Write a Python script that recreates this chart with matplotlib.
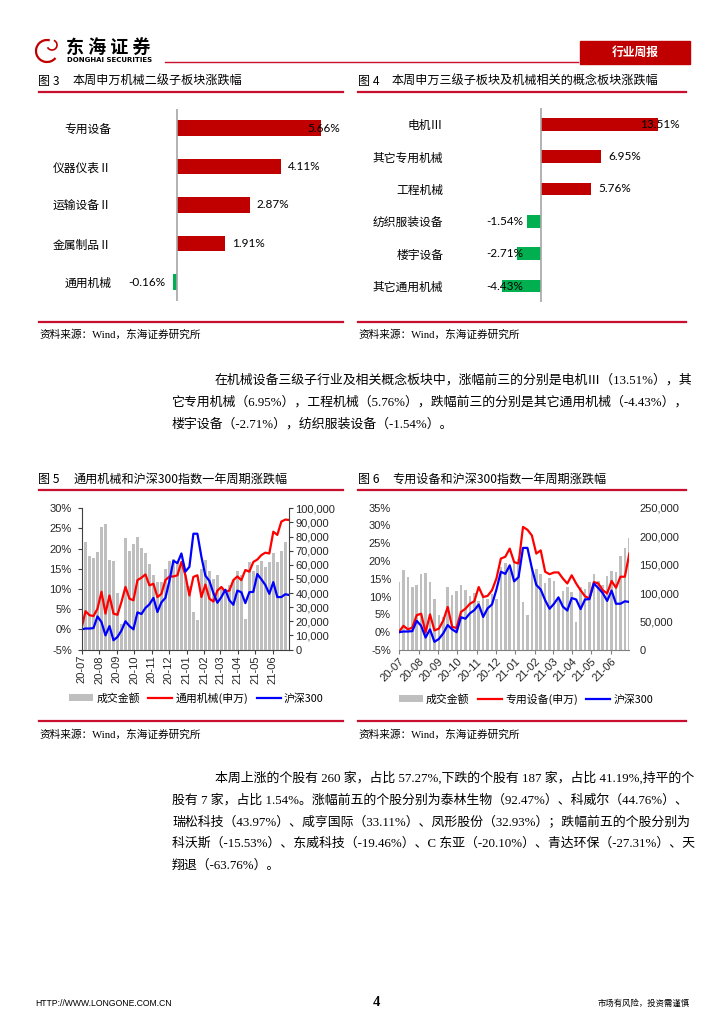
import numpy as np
import pandas as pd
import matplotlib
matplotlib.use('Agg')
import matplotlib.pyplot as plt
from matplotlib.lines import Line2D
from matplotlib.patches import Rectangle, Arc
from matplotlib.ticker import MultipleLocator, FuncFormatter

plt.rcParams['font.family'] = ['Noto Sans CJK SC', 'DejaVu Sans']

# ---------------- data ----------------
sub2_names = ['专用设备', '仪器仪表Ⅱ', '运输设备Ⅱ', '金属制品Ⅱ', '通用机械']
sub2_chg = [5.66, 4.11, 2.87, 1.91, -0.16]

sub3_names = ['电机Ⅲ', '其它专用机械', '工程机械', '纺织服装设备', '楼宇设备', '其它通用机械']
sub3_chg = [13.51, 6.95, 5.76, -1.54, -2.71, -4.43]

# weekly points, one year
week_start = '2020-07-01'
n_weeks = 53

hs300 = [0.0, 0.2, 0.2, 0.3, 3.2, 1.8, -1.5, 0.8, -2.7, -1.9,
         -0.3, 2.0, 0.8, 0.0, 4.2, 3.8, 5.3, 6.2, 7.8, 4.3,
         6.7, 7.8, 12.0, 17.0, 16.4, 18.8, 14.3, 15.5, 23.7, 23.7,
         18.0, 13.3, 12.0, 9.0, 6.6, 8.0, 9.8, 7.2, 6.1, 9.6,
         9.2, 6.5, 9.2, 9.3, 13.7, 12.4, 11.0, 8.8, 11.7, 8.0,
         8.0, 8.7, 8.5]

general_mach = [0.2, 4.5, 3.5, 3.3, 5.1, 9.3, 3.9, 8.4, 3.9, 3.6,
                6.8, 10.5, 7.6, 7.2, 12.2, 12.8, 13.6, 10.9, 11.3, 8.0,
                8.8, 12.2, 13.1, 13.1, 13.4, 16.7, 13.4, 8.4, 13.0, 13.4,
                8.0, 11.1, 7.6, 6.9, 9.6, 10.5, 9.3, 9.6, 12.2, 13.1,
                12.2, 14.7, 14.3, 16.7, 17.3, 18.4, 19.0, 18.8, 24.2, 23.4,
                26.7, 27.2, 27.1]

turnover_general = [0, 76000, 66000, 65000, 69000, 86500, 89000, 63600, 62400, 40000,
                    18000, 79000, 69500, 75000, 79400, 71900, 68600, 60800, 52500, 47800,
                    47800, 56700, 63000, 63800, 62000, 58400, 52500, 45000, 26500, 20600,
                    56700, 63600, 55300, 50000, 53000, 43000, 42500, 46000, 49000, 55300,
                    52500, 21800, 62000, 55300, 59600, 62900, 58200, 62000, 68600, 62000,
                    70000, 76000, 0]

special_eq = [0.1, 1.8, 0.8, 1.3, 4.8, 5.2, -0.1, 5.0, 0.5, 1.0,
              3.3, 7.1, 1.5, 1.2, 5.7, 6.6, 8.0, 8.7, 12.7, 9.9,
              10.2, 11.8, 15.1, 20.7, 21.2, 23.5, 19.7, 19.3, 29.6, 28.8,
              27.2, 22.1, 23.0, 17.0, 16.3, 16.8, 16.8, 15.1, 13.7, 16.0,
              13.7, 11.8, 10.1, 9.5, 14.1, 13.7, 11.8, 10.9, 14.4, 12.5,
              15.6, 15.6, 22.1]

turnover_special = [119000, 140600, 128900, 111000, 115000, 133000, 134700, 119000, 89600, 62000,
                    58000, 111000, 96700, 103700, 115000, 105400, 95500, 100000, 86000, 98000,
                    89600, 98000, 90000, 145000, 152000, 148000, 155000, 160000, 85000, 61500,
                    142400, 142400, 133000, 117000, 127000, 121000, 89600, 103700, 111000, 102000,
                    48600, 111000, 108000, 119000, 133000, 121000, 115000, 130600, 138900, 136700,
                    165800, 178700, 196000]

para1 = [
    '在机械设备三级子行业及相关概念板块中，涨幅前三的分别是电机Ⅲ（13.51%），其',
    '它专用机械（6.95%），工程机械（5.76%），跌幅前三的分别是其它通用机械（-4.43%），',
    '楼宇设备（-2.71%），纺织服装设备（-1.54%）。',
]
para2 = [
    '本周上涨的个股有 260 家，占比 57.27%,下跌的个股有 187 家，占比 41.19%,持平的个',
    '股有 7 家，占比 1.54%。涨幅前五的个股分别为泰林生物（92.47%）、科威尔（44.76%）、',
    '瑞松科技（43.97%）、咸亨国际（33.11%）、凤形股份（32.93%）；跌幅前五的个股分别为',
    '科沃斯（-15.53%）、东威科技（-19.46%）、C 东亚（-20.10%）、青达环保（-27.31%）、天',
    '翔退（-63.76%）。',
]

# ---------------- page ----------------
W, H = 724, 1024
RED = '#C00000'
LINE_RED = '#C8102E'
GREEN = '#00B050'
GREY_BAR = '#BFBFBF'
NUM_FONT = 'Liberation Sans'
LBL_FONT = ['Lato', 'DejaVu Sans']
BODY_FONT = ['Liberation Serif', 'Noto Sans CJK SC']

fig = plt.figure(figsize=(W / 100, H / 100), dpi=100)
renderer = fig.canvas.get_renderer()


def rect(x0, y0, x1, y1):
    return [x0 / W, 1 - y1 / H, (x1 - x0) / W, (y1 - y0) / H]


def put(x, y, s, **kw):
    kw.setdefault('va', 'center')
    return fig.text(x / W, 1 - y / H, s, **kw)


def rule(x0, x1, y, lw=1.6, color=LINE_RED):
    fig.add_artist(Line2D([x0 / W, x1 / W], [1 - y / H] * 2, color=color, lw=lw))


# header
fig.add_artist(Arc((47 / W, 1 - 51 / H), 22 / W, 22 / H, theta1=70, theta2=330,
                   color=RED, lw=1.6))
fig.add_artist(Arc((52 / W, 1 - 45 / H), 10 / W, 10 / H, theta1=200, theta2=60,
                   color=RED, lw=1.2))
put(66, 47, '东 海 证 券', fontsize=13, fontweight='bold')
put(67, 60, 'DONGHAI SECURITIES', fontsize=5.0, fontweight='bold', family='DejaVu Sans')
rule(165, 578, 62, lw=1.0)
fig.add_artist(Rectangle((580 / W, 1 - 64 / H), 110 / W, 23 / H, color=RED))
put(635, 52.5, '行业周报', fontsize=8.5, fontweight='bold', color='white', ha='center')

# figure titles / rules / sources
for x_num, x_body, y, num, body in [
        (38, 73, 81, '图 3', '本周申万机械二级子板块涨跌幅'),
        (358, 392, 81, '图 4', '本周申万三级子板块及机械相关的概念板块涨跌幅'),
        (38, 73, 479, '图 5', '通用机械和沪深300指数一年周期涨跌幅'),
        (358, 392, 479, '图 6', '专用设备和沪深300指数一年周期涨跌幅')]:
    put(x_num, y, num, fontsize=8.7)
    put(x_body, y, body, fontsize=8.7)

rule(39, 343, 91.5)
rule(358, 686, 91.5)
rule(39, 343, 321.7)
rule(358, 686, 321.7)
rule(39, 343, 489.5)
rule(358, 686, 489.5)
rule(39, 343, 721)
rule(358, 686, 721)
for x, y in [(39, 335), (358, 335), (39, 735), (358, 735)]:
    put(x, y, '资料来源：Wind，东海证券研究所', fontsize=7.7, family=BODY_FONT)


# ---------------- horizontal bar panels ----------------
def hbar_panel(box, xlim, names, vals, name_pad):
    ax = fig.add_axes(rect(*box))
    pos = np.arange(len(vals))
    ax.barh(pos, vals, height=0.4, color=[RED if v >= 0 else GREEN for v in vals])
    ax.set_xlim(xlim)
    ax.set_ylim(len(vals) - 0.5, -0.5)
    ax.axvline(0, color='#A6A6A6', lw=1.2)
    for s in ax.spines.values():
        s.set_visible(False)
    ax.set_xticks([])
    ax.set_yticks(pos, names)
    ax.tick_params(axis='y', length=0, pad=name_pad, labelsize=8.5)
    ax.patch.set_visible(False)

    ppu = ax.bbox.width / (xlim[1] - xlim[0])
    gap = 7 / ppu
    for p, v in zip(pos, vals):
        if v >= 0:
            t = ax.text(v + gap, p, f'{v:.2f}%', ha='left', va='center',
                        fontsize=8.5, family=LBL_FONT, clip_on=False)
        else:
            t = ax.text(v - gap, p, f'{v:.2f}%', ha='right', va='center',
                        fontsize=8.5, family=LBL_FONT, clip_on=False)
        w = t.get_window_extent(renderer).width / ppu
        if v >= 0 and v + gap + w > xlim[1]:
            t.set_x(xlim[1])
            t.set_ha('right')
        if v < 0 and v - gap - w < xlim[0]:
            t.set_x(xlim[0])
            t.set_ha('left')
    return ax


hbar_panel((120, 108.75, 340, 301.25), (-2.23, 6.42), sub2_names, sub2_chg, 6.1)
hbar_panel((486, 108.1, 680, 302.2), (-6.28, 15.99), sub3_names, sub3_chg, 30.7)

# ---------------- body text ----------------
for i, line in enumerate(para1):
    put(215 if i == 0 else 172, 380 + 22 * i, line, fontsize=9.3, family=BODY_FONT)
for i, line in enumerate(para2):
    put(215 if i == 0 else 172, 778 + 22 * i, line, fontsize=9.3, family=BODY_FONT)

# ---------------- combo panels ----------------
dates = pd.date_range(week_start, periods=n_weeks, freq='7D')
x = np.arange(n_weeks)
months = pd.date_range('2020-07-01', '2021-06-01', freq='MS')
tick_pos = (months - dates[0]).days / 7
tick_lab = list(months.strftime('%y-%m'))


def combo_panel(box, turnover, sector, sector_label, pct_max, amt_max, amt_step,
                boxed, legend_at):
    ax = fig.add_axes(rect(*box))
    ax2 = ax.twinx()
    ax.set_zorder(ax2.get_zorder() + 1)
    ax.patch.set_visible(False)

    bars = ax2.bar(x, turnover, width=0.6, color=GREY_BAR)
    l1, = ax.plot(x, sector, color='#FF0000', lw=1.6, solid_joinstyle='round')
    l2, = ax.plot(x, hs300, color='#0000FF', lw=1.6, solid_joinstyle='round')

    ax.set_xlim(0, n_weeks - 1)
    ax.set_ylim(-5, pct_max)
    ax.yaxis.set_major_locator(MultipleLocator(5))
    ax.yaxis.set_major_formatter(FuncFormatter(lambda v, _: f'{v:.0f}%'))
    ax2.set_ylim(0, amt_max)
    ax2.yaxis.set_major_locator(MultipleLocator(amt_step))
    ax2.yaxis.set_major_formatter(FuncFormatter(lambda v, _: f'{v:,.0f}'))

    ax.set_xticks(tick_pos)
    for a in (ax, ax2):
        a.tick_params(labelsize=8, labelcolor='#262626', labelfontfamily=NUM_FONT)
    ax.spines['top'].set_visible(False)
    ax.spines['right'].set_visible(False)
    for k in ('top', 'left', 'bottom'):
        ax2.spines[k].set_visible(False)

    if boxed:
        ax.set_xticklabels(tick_lab, rotation=90, ha='center', va='top')
        for s in ('left', 'bottom'):
            ax.spines[s].set_color('#404040')
        ax2.spines['right'].set_color('#404040')
        ax.tick_params(axis='y', direction='out', length=3, width=0.8,
                       color='#404040', pad=4)
        ax.tick_params(axis='x', direction='out', length=3, width=0.8,
                       color='#404040', pad=1)
        ax2.tick_params(axis='y', direction='out', length=3, width=0.8,
                        color='#404040', pad=1.5)
    else:
        ax.set_xticklabels(tick_lab, rotation=45, ha='right', va='top',
                           rotation_mode='anchor')
        ax.spines['left'].set_visible(False)
        ax2.spines['right'].set_visible(False)
        ax.spines['bottom'].set_color('#808080')
        ax.tick_params(axis='y', length=0, pad=5.8)
        ax.tick_params(axis='x', direction='out', length=3, width=0.8,
                       color='#808080', pad=1.5)
        ax2.tick_params(axis='y', length=0, pad=7.2)

    ax.legend([bars, l1, l2], ['成交金额', sector_label, '沪深300'], loc='center',
              bbox_to_anchor=(legend_at[0] / W, 1 - legend_at[1] / H),
              bbox_transform=fig.transFigure, ncol=3, frameon=False, fontsize=7.8,
              handlelength=2.2, handleheight=0.55, handletextpad=0.3,
              columnspacing=0.8, borderpad=0, borderaxespad=0)
    return ax


combo_panel((81.5, 508.3, 289.3, 649.5), turnover_general, general_mach,
            '通用机械(申万)', 30, 100000, 10000, True, (196.5, 698))
combo_panel((399, 507.7, 629.3, 650), turnover_special, special_eq,
            '专用设备(申万)', 35, 250000, 50000, False, (526, 699))

# ---------------- footer ----------------
put(35, 1003, 'HTTP://WWW.LONGONE.COM.CN', fontsize=6.2, family=NUM_FONT)
put(376, 1002, '4', fontsize=10.5, fontweight='bold', family='Liberation Serif', ha='center')
put(690, 1003, '市场有风险，投资需谨慎', fontsize=6, ha='right')

fig.savefig('out.png', dpi=100)
